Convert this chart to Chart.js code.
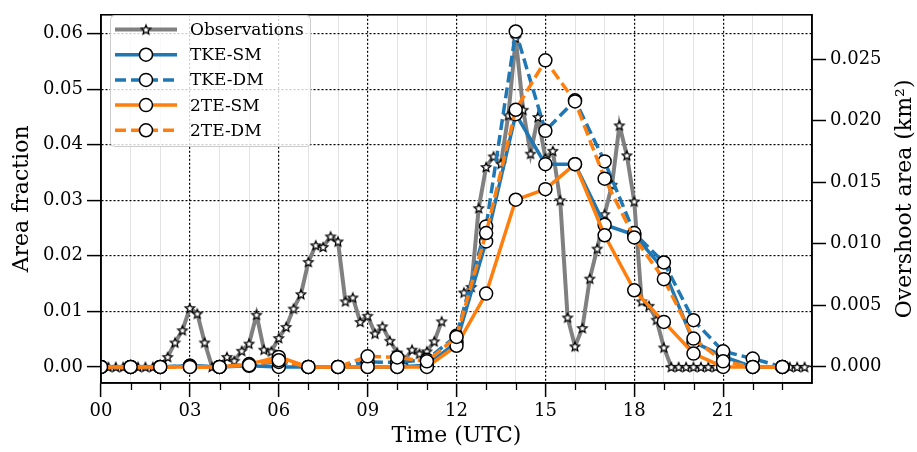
<!DOCTYPE html>
<html>
<head>
<meta charset="utf-8">
<script src="https://cdn.jsdelivr.net/npm/chart.js@4.4.1/dist/chart.umd.min.js"></script>
<style>
  html, body { margin: 0; padding: 0; background: #ffffff; }
  #wrap { width: 917px; height: 452px; position: relative; }
</style>
</head>
<body>
<div id="wrap"><canvas id="c" width="917" height="452"></canvas></div>
<script>
// ---------------- DATA ----------------
const modelHours = [0,1,2,3,4,5,6,7,8,9,10,11,12,13,14,15,16,17,18,19,20,21,22,23];
const obsStepHours = 0.25; // observations every 15 minutes, starting at 00 UTC
const obsValues = [
  0, 0, 0, 0, 0, 0, 0, 0,                 // 00:00 - 01:45
  0, 0.0018, 0.0044, 0.0066,              // 02:00 - 02:45
  0.0106, 0.0096, 0.0044, 0.0,            // 03
  0.0, 0.0018, 0.0011, 0.0029,            // 04
  0.0042, 0.0094, 0.0031, 0.0028,         // 05
  0.0052, 0.0072, 0.0105, 0.0131,         // 06
  0.0189, 0.0219, 0.0216, 0.0235,         // 07
  0.0226, 0.0118, 0.0125, 0.0081,         // 08
  0.0092, 0.0060, 0.0073, 0.0047,         // 09
  0.0026, 0.0012, 0.0031, 0.0024,         // 10
  0.0028, 0.0046, 0.0082, null,           // 11
  null, 0.0134, 0.0144, 0.0286,           // 12
  0.0360, 0.0379, 0.0366, 0.0453,         // 13
  0.0592, 0.0463, 0.0384, 0.0450,         // 14
  0.0376, 0.0389, 0.0300, 0.0089,         // 15
  0.0037, 0.0070, 0.0159, 0.0213,         // 16
  0.0275, 0.0328, 0.0435, 0.0381,         // 17
  0.0298, 0.0118, 0.0110, 0.0085,         // 18
  0.0035, 0, 0, 0,                        // 19
  0, 0, 0, 0,                             // 20
  null, null, null, null,                 // 21
  null, null, null, null,                 // 22
  null, 0, 0, 0                           // 23
];
const tkeSM = [0, 0, 0, 0.0002, 0, 0.0002, 0, 0, 0, 0, 0, 0.0003, 0.0044, 0.0226, 0.0455, 0.0365, 0.0365, 0.0256, 0.0238, 0.0175, 0.0045, 0.0019, 0, 0];
const tkeDM = [0, 0, 0, 0.0002, 0, 0.0004, 0.0009, 0, 0, 0.0009, 0.0008, 0.0013, 0.0056, 0.0253, 0.0604, 0.0425, 0.0480, 0.0370, 0.0241, 0.0188, 0.0084, 0.0028, 0.0015, 0];
const te2SM = [0, 0, 0, 0, 0, 0.0005, 0.0018, 0, 0, 0, 0, 0, 0.0038, 0.0132, 0.0301, 0.0320, 0.0365, 0.0237, 0.0138, 0.0081, 0.0024, 0, 0, 0];
const te2DM = [0, 0, 0, 0, 0, 0.0003, 0.0012, 0, 0, 0.0019, 0.0017, 0.0010, 0.0054, 0.0241, 0.0463, 0.0552, 0.0478, 0.0339, 0.0233, 0.0158, 0.0051, 0.0010, 0, 0];

const leftTicks = [0, 0.01, 0.02, 0.03, 0.04, 0.05, 0.06];
const rightTicks = [0, 0.005, 0.010, 0.015, 0.020, 0.025];
const majorHourStep = 3;

const seriesLabels = ['Observations', 'TKE-SM', 'TKE-DM', '2TE-SM', '2TE-DM'];

// ---------------- STYLE ----------------
const FONT = '"DejaVu Serif", "Liberation Serif", serif';
const BLUE = '#1f77b4', ORANGE = '#ff7f0e', GRAY = '#808080';
const DASH = [11, 5];

function makeStar(r, lw) {
  const s = Math.ceil(2 * r + 2 * lw + 3);
  const c = document.createElement('canvas');
  c.width = s; c.height = s;
  const g = c.getContext('2d');
  g.translate(s / 2, s / 2 + r * 0.1);
  g.beginPath();
  for (let k = 0; k < 10; k++) {
    const rad = k % 2 === 0 ? r : r * 0.45;
    const a = -Math.PI / 2 + k * Math.PI / 5;
    g.lineTo(rad * Math.cos(a), rad * Math.sin(a));
  }
  g.closePath();
  g.fillStyle = '#ffffff'; g.fill();
  g.lineWidth = lw; g.strokeStyle = '#000000'; g.lineJoin = 'miter'; g.stroke();
  return c;
}
const starImg = makeStar(4.8, 1.3);

const obsPoints = obsValues.map((v, i) => ({ x: i * obsStepHours, y: v }));
const toPts = arr => modelHours.map((h, i) => ({ x: h, y: arr[i] }));

function modelDs(label, arr, color, dash, order) {
  return {
    label, data: toPts(arr), borderColor: color, backgroundColor: color,
    borderWidth: 3.5, borderDash: dash, tension: 0,
    pointRadius: 6.5, pointHoverRadius: 6.5, pointBorderWidth: 1.5,
    pointBackgroundColor: '#ffffff', pointBorderColor: '#000000',
    yAxisID: 'y', order, clip: 0, spanGaps: false
  };
}

const datasets = [
  {
    label: seriesLabels[0], data: obsPoints, borderColor: GRAY, backgroundColor: GRAY,
    borderWidth: 4, tension: 0, pointStyle: starImg, pointRadius: 5, pointHoverRadius: 5,
    spanGaps: false, yAxisID: 'y', order: 5, clip: 0
  },
  modelDs(seriesLabels[1], tkeSM, BLUE, [], 4),
  modelDs(seriesLabels[2], tkeDM, BLUE, DASH, 3),
  modelDs(seriesLabels[3], te2SM, ORANGE, [], 2),
  modelDs(seriesLabels[4], te2DM, ORANGE, DASH, 1)
];

const isMajor = ctx => ctx.tick && Math.round(ctx.tick.value) % majorHourStep === 0;

// ---------------- PLUGINS ----------------
const framePlugin = {
  id: 'frame',
  afterDatasetsDraw(chart) {
    const { ctx, chartArea: a, scales } = chart;
    ctx.save();
    // minor ticks on x
    ctx.strokeStyle = '#000'; ctx.lineWidth = 1.3;
    modelHours.forEach(h => {
      if (h % majorHourStep !== 0) {
        const px = Math.round(scales.x.getPixelForValue(h)) + 0.5;
        ctx.beginPath(); ctx.moveTo(px, a.bottom); ctx.lineTo(px, a.bottom + 7); ctx.stroke();
      }
    });
    ctx.lineWidth = 1.6;
    ctx.strokeRect(a.left, a.top, a.right - a.left, a.bottom - a.top);
    ctx.restore();
  }
};

const legendAndTitlePlugin = {
  id: 'mplLegend',
  afterDraw(chart) {
    const { ctx, chartArea: a } = chart;
    ctx.save();
    // right axis title (reads bottom to top)
    ctx.translate(905, (a.top + a.bottom) / 2);
    ctx.rotate(-Math.PI / 2);
    ctx.fillStyle = '#000';
    ctx.font = '22px ' + FONT;
    ctx.textAlign = 'center'; ctx.textBaseline = 'middle';
    ctx.fillText('Overshoot area (km\u00B2)', 0, 0);
    ctx.restore();

    ctx.save();
    const x0 = 110, y0 = 15, w = 200, h = 131;
    ctx.beginPath();
    ctx.roundRect(x0 + 0.5, y0 + 0.5, w, h, 4);
    ctx.fillStyle = 'rgba(255,255,255,0.8)'; ctx.fill();
    ctx.strokeStyle = '#cccccc'; ctx.lineWidth = 1; ctx.stroke();
    chart.data.datasets.forEach((ds, i) => {
      const cy = 29.5 + i * 25.2;
      ctx.setLineDash(ds.borderDash || []);
      ctx.strokeStyle = ds.borderColor; ctx.lineWidth = ds.borderWidth;
      ctx.beginPath(); ctx.moveTo(115, cy); ctx.lineTo(177, cy); ctx.stroke();
      ctx.setLineDash([]);
      if (ds.pointStyle instanceof HTMLCanvasElement) {
        const im = ds.pointStyle;
        ctx.drawImage(im, 146 - im.width / 2, cy - im.height / 2);
      } else {
        ctx.beginPath(); ctx.arc(146, cy, ds.pointRadius, 0, Math.PI * 2);
        ctx.fillStyle = '#fff'; ctx.fill();
        ctx.lineWidth = ds.pointBorderWidth; ctx.strokeStyle = '#000'; ctx.stroke();
      }
      ctx.fillStyle = '#000'; ctx.font = '17px ' + FONT;
      ctx.textAlign = 'left'; ctx.textBaseline = 'middle';
      ctx.fillText(ds.label, 190, cy + 1);
    });
    ctx.restore();
  }
};

// ---------------- CHART ----------------
Chart.defaults.color = '#000';
Chart.defaults.font.family = FONT;

new Chart(document.getElementById('c'), {
  type: 'line',
  data: { datasets },
  plugins: [framePlugin, legendAndTitlePlugin],
  options: {
    responsive: false, animation: false, devicePixelRatio: 1,
    layout: { padding: { top: 7, left: 0, right: 0, bottom: 0 } },
    plugins: { legend: { display: false }, tooltip: { enabled: false } },
    scales: {
      x: {
        type: 'linear', min: 0, max: 24,
        afterBuildTicks: s => { s.ticks = modelHours.map(v => ({ value: v })); },
        afterFit: s => { s.height = 69; },
        ticks: {
          autoSkip: false, maxRotation: 0, padding: 4,
          font: { family: FONT, size: 18 }, color: '#000',
          callback: v => (v % majorHourStep === 0 ? String(v).padStart(2, '0') : '')
        },
        grid: {
          color: ctx => (isMajor(ctx) ? '#000000' : '#dcdcdc'),
          lineWidth: ctx => (isMajor(ctx) ? 1.2 : 0.8),
          tickLength: 14,
          tickColor: ctx => (isMajor(ctx) ? '#000000' : 'rgba(0,0,0,0)'),
          tickWidth: 1.5
        },
        border: { display: true, color: '#000', width: 1.5, dash: ctx => (ctx.tick ? (isMajor(ctx) ? [2, 2] : []) : []) },
        title: { display: true, text: 'Time (UTC)', font: { family: FONT, size: 22 }, color: '#000', padding: { top: 0, bottom: 3 } }
      },
      y: {
        type: 'linear', position: 'left', min: -0.0029, max: 0.0634,
        afterBuildTicks: s => { s.ticks = leftTicks.map(v => ({ value: v })); },
        afterFit: s => { s.width = 101; },
        ticks: { padding: 4, font: { family: FONT, size: 18 }, color: '#000', callback: v => v.toFixed(2) },
        grid: { color: '#000', lineWidth: 1.2, tickLength: 14, tickColor: '#000', tickWidth: 1.5 },
        border: { display: true, color: '#000', width: 1.5, dash: ctx => (ctx.tick ? [2, 2] : []) },
        title: { display: true, text: 'Area fraction', font: { family: FONT, size: 22 }, color: '#000', padding: { top: 9, bottom: 0 } }
      },
      y2: {
        type: 'linear', position: 'right', min: -0.00133, max: 0.0286,
        afterBuildTicks: s => { s.ticks = rightTicks.map(v => ({ value: v })); },
        afterFit: s => { s.width = 105; },
        ticks: { padding: 4, font: { family: FONT, size: 18 }, color: '#000', callback: v => v.toFixed(3) },
        grid: { drawOnChartArea: false, tickLength: 14, tickColor: '#000', tickWidth: 1.5 },
        border: { display: true, color: '#000', width: 1.5 }
      }
    }
  }
});
</script>
</body>
</html>
